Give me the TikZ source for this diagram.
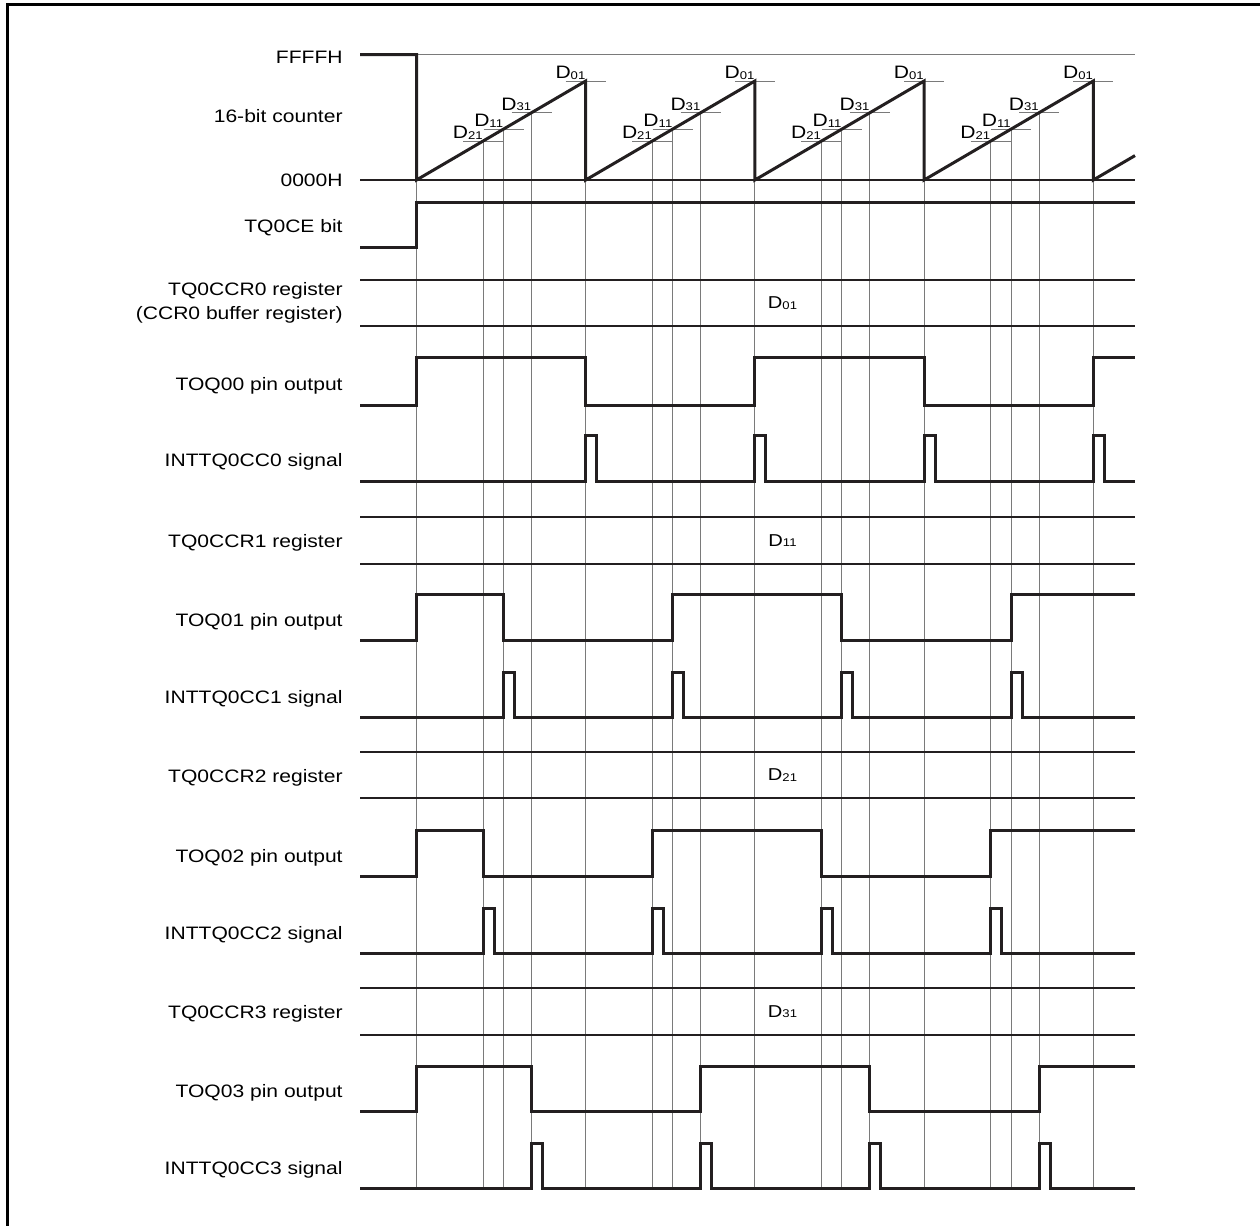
\documentclass[tikz,border=0pt]{standalone}
\usepackage{fontspec}
\setmainfont{Liberation Sans}[FakeStretch=1.17]
\usetikzlibrary{calc}
\definecolor{wline}{HTML}{231F20}
\definecolor{wguide}{HTML}{7A7A7A}
\tikzset{
  lbl/.style={anchor=base east, inner sep=0pt, font=\fontsize{9}{11}\selectfont},
  clbl/.style={anchor=base east, inner sep=0pt, font=\fontsize{9}{11}\selectfont},
  vlbl/.style={anchor=center, inner sep=0pt, font=\fontsize{8.6}{10}\selectfont},
  sig/.style={wline, line width=1.5pt},
  bus/.style={wline, line width=1.25pt},
  guide/.style={wguide, line width=0.5pt},
  frame/.style={black, line width=1.6pt},
}
\newcommand{\dsub}[2]{D\raisebox{-0.35pt}{\fontsize{#2}{#2}\selectfont #1}}

\begin{document}
\begin{tikzpicture}[x=0.5pt, y=-0.5pt]
  \useasboundingbox (0,0) rectangle (1260,1226);
  %% ── frame ──
  \draw[frame] (7.5,1230) -- (7.5,4.7) -- (1265,4.7);

  %% ── row labels ──
  \foreach \nm/\yy/\txt in {
      lmax/63/FFFFH, lcnt/122.5/16-bit counter, lmin/186.5/0000H,
      lce/232.5/TQ0CE bit,
      lccra/295.5/TQ0CCR0 register, lccrb/319.5/(CCR0 buffer register),
      ltoqa/390.5/TOQ00 pin output, linta/466.5/INTTQ0CC0 signal,
      lccrc/547.5/TQ0CCR1 register,
      ltoqb/626.5/TOQ01 pin output, lintb/703.5/INTTQ0CC1 signal,
      lccrd/782.5/TQ0CCR2 register,
      ltoqc/862.5/TOQ02 pin output, lintc/939.5/INTTQ0CC2 signal,
      lccre/1018.5/TQ0CCR3 register,
      ltoqd/1097.5/TOQ03 pin output, lintd/1174.5/INTTQ0CC3 signal}{
    \node[lbl] (\nm) at (343,\yy) {\txt};
  }

  %% ── guides, compare levels ──
  \foreach \k in {0,...,3}{
    \pgfmathsetmacro\cs{416.5+\k*169.2}
    \foreach \o/\lv/\nm in {66.5/141.1/21, 87/129.1/11, 115/112.7/31}{
      \draw[guide] (\cs+\o,\lv) -- (\cs+\o,1188);
      \draw[guide] (\cs+\o-20,\lv) -- (\cs+\o+20,\lv);
      \node[clbl] (c\nm-\k) at (\cs+\o,\lv-2.5) {\dsub{\nm}{5.6}};
    }
    \draw[guide] (\cs+169.2,180) -- (\cs+169.2,1188);
    \draw[guide] (\cs+149.2,81) -- (\cs+189.2,81);
    \node[clbl] (c01-\k) at (\cs+169.2,78.5) {\dsub{01}{5.6}};
  }
  \draw[guide] (416.5,180) -- (416.5,1188);

  %% ── 16-bit counter ──
  \draw[guide] (416.5,54.5) -- (1135,54.5);
  \draw[wline, line width=0.6pt] (360,180) -- (1135,180);
  \draw[sig] (360,54.5) -- (416.5,54.5) -- (416.5,180)
    foreach \k in {1,...,4}{ -- ({416.5+\k*169.2},81) -- ({416.5+\k*169.2},180) }
    -- (1135,155.6);

  %% ── TQ0CE bit ──
  \draw[sig] (360,247) -- (416.5,247) -- (416.5,202) -- (1135,202);

  %% ── compare registers ──
  \foreach \yt/\yb/\nm in {280/326/01, 517/564/11, 752/798/21, 988/1035/31}{
    \draw[bus] (360,\yt) -- (1135,\yt);
    \draw[bus] (360,\yb) -- (1135,\yb);
    \node[vlbl] (r\nm) at (782.5,{(\yt+\yb)/2}) {\dsub{\nm}{5.6}};
  }

  %% ── pin outputs ──
  \foreach \yh/\yl/\o in {357/405/169.2, 594/640/87, 830/876/66.5, 1066/1111/115}{
    \draw[sig] (360,\yl) -- (416.5,\yl) -- (416.5,\yh)
      foreach \k/\ya/\yb in {0/\yh/\yl, 1/\yl/\yh, 2/\yh/\yl, 3/\yl/\yh}{
        -- ({416.5+\k*169.2+\o},\ya) -- ({416.5+\k*169.2+\o},\yb)}
      -- (1135,\yh);
  }

  %% ── interrupt signals ──
  \foreach \yh/\yl/\o in {435/481/169.2, 672/717/87, 908/953/66.5, 1143/1188/115}{
    \draw[sig] (360,\yl)
      foreach \k in {0,...,3}{
        -- ({416.5+\k*169.2+\o},\yl) -- ({416.5+\k*169.2+\o},\yh)
        -- ({427.5+\k*169.2+\o},\yh) -- ({427.5+\k*169.2+\o},\yl)}
      -- (1135,\yl);
  }
\end{tikzpicture}
\end{document}
